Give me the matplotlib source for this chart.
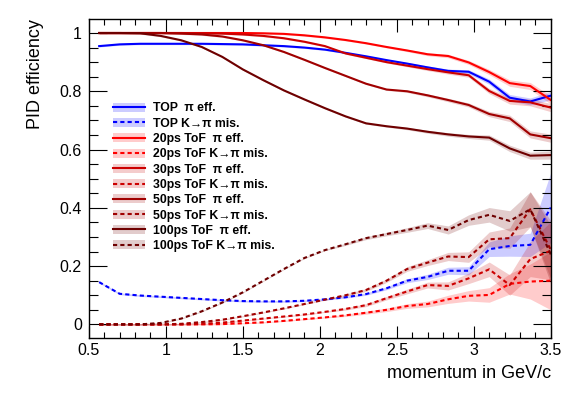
import matplotlib.pyplot as plt
import numpy as np
from matplotlib.ticker import MultipleLocator, FixedLocator
from matplotlib.lines import Line2D
from matplotlib.patches import Patch

plt.rcParams['font.family'] = ['Liberation Sans', 'DejaVu Sans']

# momentum bin centres
p = 0.5 + (np.arange(23) + 0.5) * (2.0 / 15.0)

# pion efficiencies
top_eff = [0.955, 0.961, 0.963, 0.963, 0.963, 0.963, 0.962, 0.961, 0.958, 0.955, 0.950, 0.943,
           0.932, 0.920, 0.907, 0.895, 0.882, 0.870, 0.867, 0.833, 0.778, 0.765, 0.785]
tof20_eff = [1.0, 1.0, 1.0, 1.0, 1.0, 1.0, 1.0, 1.0, 0.999, 0.997, 0.992, 0.985,
             0.976, 0.965, 0.952, 0.940, 0.927, 0.921, 0.899, 0.866, 0.828, 0.818, 0.770]
tof30_eff = [1.0, 1.0, 1.0, 1.0, 1.0, 0.999, 0.998, 0.995, 0.990, 0.982, 0.970, 0.955,
             0.930, 0.915, 0.900, 0.888, 0.876, 0.865, 0.855, 0.801, 0.767, 0.762, 0.744]
tof50_eff = [1.0, 1.0, 1.0, 1.0, 0.998, 0.995, 0.988, 0.975, 0.958, 0.935, 0.908, 0.880,
             0.853, 0.826, 0.806, 0.800, 0.786, 0.770, 0.753, 0.722, 0.707, 0.652, 0.639]
tof100_eff = [1.0, 1.0, 0.999, 0.990, 0.975, 0.952, 0.918, 0.875, 0.838, 0.803, 0.772, 0.742,
              0.714, 0.690, 0.680, 0.672, 0.661, 0.652, 0.645, 0.641, 0.604, 0.579, 0.581]

# K -> pi misidentification
top_mis = [0.145, 0.105, 0.099, 0.095, 0.091, 0.087, 0.083, 0.080, 0.079, 0.079, 0.081, 0.086,
           0.093, 0.104, 0.124, 0.150, 0.163, 0.184, 0.184, 0.258, 0.269, 0.273, 0.401]
tof20_mis = [0.0, 0.0, 0.0, 0.0, 0.0, 0.0, 0.001, 0.004, 0.007, 0.012, 0.018, 0.024,
             0.031, 0.040, 0.050, 0.063, 0.070, 0.086, 0.098, 0.101, 0.139, 0.147, 0.150]
tof30_mis = [0.0, 0.0, 0.0, 0.0, 0.0, 0.002, 0.006, 0.013, 0.020, 0.027, 0.034, 0.043,
             0.053, 0.066, 0.090, 0.113, 0.135, 0.132, 0.158, 0.189, 0.135, 0.224, 0.253]
tof50_mis = [0.0, 0.0, 0.0, 0.0, 0.002, 0.008, 0.016, 0.028, 0.041, 0.055, 0.070, 0.085,
             0.100, 0.118, 0.150, 0.190, 0.212, 0.233, 0.231, 0.292, 0.296, 0.395, 0.256]
tof100_mis = [0.0, 0.0, 0.0, 0.005, 0.020, 0.045, 0.075, 0.110, 0.150, 0.190, 0.228, 0.255,
              0.275, 0.296, 0.310, 0.324, 0.339, 0.324, 0.358, 0.376, 0.355, 0.395, 0.240]

# uncertainties (half widths of the bands)
eff_err = [0.003] * 15 + [0.004, 0.005, 0.006, 0.007, 0.009, 0.011, 0.012, 0.014]
mis_err_top = [0.003] * 13 + [0.004, 0.005, 0.007, 0.009, 0.012, 0.014, 0.025, 0.035, 0.04, 0.12]
mis_err_tof = [0.002] * 12 + [0.004, 0.005, 0.006, 0.008, 0.010, 0.014, 0.018, 0.025, 0.035, 0.06, 0.10]

series = [
    ('TOP', top_eff, top_mis, mis_err_top, '#0000ff'),
    ('20ps ToF', tof20_eff, tof20_mis, mis_err_tof, '#ff0000'),
    ('30ps ToF', tof30_eff, tof30_mis, mis_err_tof, '#cc0000'),
    ('50ps ToF', tof50_eff, tof50_mis, mis_err_tof, '#a00000'),
    ('100ps ToF', tof100_eff, tof100_mis, mis_err_tof, '#6e0000'),
]

fig = plt.figure(figsize=(5.81, 3.94), dpi=100)
ax = fig.add_axes([0.153, 0.1434, 0.795, 0.8076])

dash = (0, (2, 1.5))
handles = []
labels = []
for name, eff, mis, merr, col in series:
    eff = np.array(eff)
    mis = np.array(mis)
    ee = np.array(eff_err)
    me = np.array(merr)
    ax.fill_between(p, eff - ee, eff + ee, color=col, alpha=0.2, lw=0)
    ax.plot(p, eff, color=col, lw=1.5)
    ax.fill_between(p, mis - me, mis + me, color=col, alpha=0.2, lw=0)
    ax.plot(p, mis, color=col, lw=1.5, ls=dash)
    for ls, lab in [('-', name + '  π eff.'), (dash, name + ' K→π mis.')]:
        handles.append((Patch(facecolor=col, alpha=0.2, lw=0), Line2D([], [], color=col, lw=1.5, ls=ls)))
        labels.append(lab)

ax.set_xlim(0.5, 3.5)
ax.set_ylim(-0.045, 1.047)
ax.xaxis.set_major_locator(FixedLocator([0.5, 1, 1.5, 2, 2.5, 3, 3.5]))
ax.xaxis.set_minor_locator(MultipleLocator(0.1))
ax.set_xticklabels(['0.5', '1', '1.5', '2', '2.5', '3', '3.5'])
ax.yaxis.set_major_locator(FixedLocator([0, 0.2, 0.4, 0.6, 0.8, 1.0]))
ax.yaxis.set_minor_locator(MultipleLocator(0.05))
ax.set_yticklabels(['0', '0.2', '0.4', '0.6', '0.8', '1'])
ax.tick_params(which='both', direction='in', top=True, right=True, labelsize=11.5, width=0.8)
ax.tick_params(axis='x', which='major', length=9, pad=4)
ax.tick_params(axis='x', which='minor', length=4.5)
ax.tick_params(axis='y', which='major', length=13, pad=5)
ax.tick_params(axis='y', which='minor', length=6.5)
for s in ax.spines.values():
    s.set_linewidth(1.0)

ax.set_xlabel('momentum in GeV/c', fontsize=13, loc='right', labelpad=5)
ax.set_ylabel('PID efficiency', fontsize=13, loc='top', labelpad=11)

ax.legend(handles, labels, loc='upper left', bbox_to_anchor=(0.04, 0.758), frameon=False,
          prop={'weight': 'bold', 'size': 8.8}, handlelength=2.6, handleheight=0.75,
          labelspacing=0.27, handletextpad=0.6, borderpad=0)

fig.savefig('out.png', dpi=100)
